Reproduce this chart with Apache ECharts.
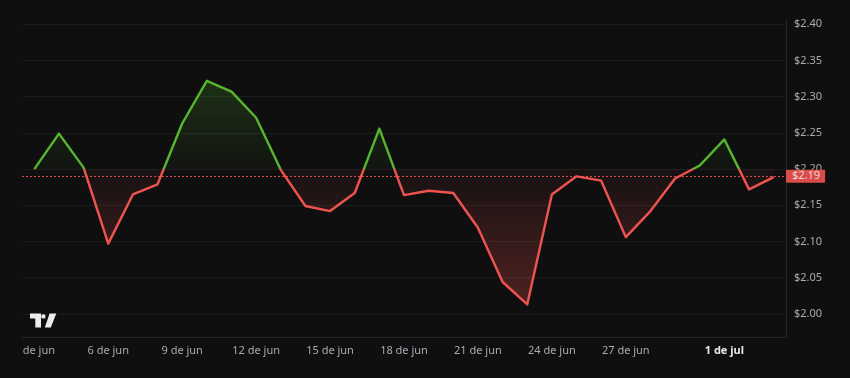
<!DOCTYPE html>
<html>
<head>
<meta charset="utf-8">
<script src="https://cdn.jsdelivr.net/npm/echarts@6/dist/echarts.min.js"></script>
<style>
  html, body { margin: 0; padding: 0; background: #0f0f0f; }
  #chart { width: 850px; height: 378px; }
</style>
</head>
<body>
<div id="chart"></div>
<script>
// ---- data ----
const dates = ['3 de jun','4 de jun','5 de jun','6 de jun','7 de jun','8 de jun','9 de jun','10 de jun',
  '11 de jun','12 de jun','13 de jun','14 de jun','15 de jun','16 de jun','17 de jun','18 de jun',
  '19 de jun','20 de jun','21 de jun','22 de jun','23 de jun','24 de jun','25 de jun','26 de jun',
  '27 de jun','28 de jun','29 de jun','30 de jun','1 de jul','2 de jul','3 de jul'];
const prices = [2.200, 2.249, 2.202, 2.097, 2.165, 2.179, 2.263, 2.322, 2.307, 2.271, 2.199,
  2.149, 2.142, 2.167, 2.256, 2.164, 2.170, 2.167, 2.119, 2.044, 2.013, 2.165, 2.190, 2.184,
  2.106, 2.142, 2.187, 2.205, 2.241, 2.172, 2.189];
const shownDates = ['3 de jun','6 de jun','9 de jun','12 de jun','15 de jun','18 de jun',
  '21 de jun','24 de jun','27 de jun','1 de jul'];
const baseValue = 2.20;
const lastPrice = 2.19;
const yTicks = [2.00, 2.05, 2.10, 2.15, 2.20, 2.25, 2.30, 2.35, 2.40];

const GREEN = '#56b62f';
const RED = '#ef5350';
const Y_MIN = 1.968, Y_MAX = 2.406;

const baseLine = prices.map(() => baseValue);
const diffs = prices.map(p => +(p - baseValue).toFixed(4));

const chart = echarts.init(document.getElementById('chart'), null, { renderer: 'canvas' });
const FONT = 'Noto Sans, sans-serif';

function buildOption(lineColor, areaColor) {
  return {
    backgroundColor: '#0f0f0f',
    animation: false,
    grid: { left: 22, right: 64, top: 20, bottom: 41 },
    xAxis: {
      type: 'category',
      data: dates,
      boundaryGap: true,
      axisLine: { show: true, lineStyle: { color: '#262626', width: 1 } },
      axisTick: { show: false },
      splitLine: { show: false },
      axisLabel: {
        margin: 8,
        fontSize: 11,
        fontFamily: FONT,
        color: '#a9abb3',
        interval: function (idx, val) { return shownDates.indexOf(val) >= 0; },
        formatter: function (val, idx) {
          if (idx === 0) return '{clip|3 }{n|de jun}';
          if (val === '1 de jul') return '{b|' + val + '}';
          return val;
        },
        rich: {
          clip: { color: 'rgba(0,0,0,0)', fontSize: 11, fontFamily: FONT },
          n: { color: '#a9abb3', fontSize: 11, fontFamily: FONT },
          b: { color: '#e6e7ea', fontSize: 11, fontWeight: 'bold', fontFamily: FONT }
        }
      }
    },
    yAxis: {
      type: 'value',
      position: 'right',
      min: Y_MIN,
      max: Y_MAX,
      splitNumber: 9,
      axisLine: { show: true, lineStyle: { color: '#262626', width: 1 } },
      axisTick: { show: false },
      splitLine: { show: true, showMaxLine: false, showMinLine: false, lineStyle: { color: '#1c1c1c', width: 1 } },
      axisLabel: {
        showMinLabel: false,
        showMaxLabel: false,
        margin: 8,
        fontSize: 11,
        fontFamily: FONT,
        color: '#a9abb3',
        formatter: function (v) {
          const ok = yTicks.some(t => Math.abs(t - v) < 1e-6);
          return ok ? '$' + v.toFixed(2) : '';
        }
      }
    },
    series: [{
      type: 'line',
      name: 'base',
      data: baseLine,
      stack: 'p',
      stackStrategy: 'all',
      symbol: 'none',
      lineStyle: { width: 0, opacity: 0 },
      silent: true,
      z: 1,
      markLine: {
        silent: true,
        symbol: ['none', 'none'],
        lineStyle: { color: RED, type: [2, 2], width: 1, opacity: 0.9 },
        label: {
          show: true,
          position: 'end',
          distance: 0,
          formatter: '$' + lastPrice.toFixed(2),
          backgroundColor: RED,
          color: '#f5e6e6',
          fontSize: 11,
          fontFamily: FONT,
          padding: [1, 5, 1, 6],
          borderRadius: 1
        },
        data: [{ yAxis: lastPrice }]
      }
    }, {
      type: 'line',
      name: 'price',
      data: diffs,
      stack: 'p',
      stackStrategy: 'all',
      symbol: 'none',
      z: 3,
      lineStyle: { width: 2.4, color: lineColor, join: 'round' },
      areaStyle: { color: areaColor, opacity: 1 }
    }],
    graphic: [
      { type: 'polygon', z: 100, shape: { points: [[30,313.5],[41,313.5],[41,327.5],[35.3,327.5],[35.3,318.6],[30,318.6]] }, style: { fill: '#ececec' } },
      { type: 'circle', z: 100, shape: { cx: 43.4, cy: 316.4, r: 2.2 }, style: { fill: '#ececec' } },
      { type: 'polygon', z: 100, shape: { points: [[49.6,313.5],[56.3,313.5],[50.8,327.5],[44.8,327.5]] }, style: { fill: '#ececec' } }
    ]
  };
}

chart.setOption(buildOption(GREEN, 'rgba(0,0,0,0)'));
const yTop = chart.convertToPixel({ yAxisIndex: 0 }, Y_MAX);
const yBase = chart.convertToPixel({ yAxisIndex: 0 }, baseValue);
const yBot = chart.convertToPixel({ yAxisIndex: 0 }, Y_MIN);
const f = (yBase - yTop) / (yBot - yTop);
const lineGrad = new echarts.graphic.LinearGradient(0, yTop, 0, yBot, [
  { offset: 0, color: GREEN },
  { offset: f, color: GREEN },
  { offset: f, color: RED },
  { offset: 1, color: RED }
], true);
const areaGrad = new echarts.graphic.LinearGradient(0, yTop, 0, yBot, [
  { offset: 0, color: 'rgba(86,182,47,0.32)' },
  { offset: f, color: 'rgba(86,182,47,0.03)' },
  { offset: f, color: 'rgba(239,83,80,0.04)' },
  { offset: 1, color: 'rgba(239,83,80,0.34)' }
], true);
chart.setOption(buildOption(lineGrad, areaGrad), true);
</script>
</body>
</html>
